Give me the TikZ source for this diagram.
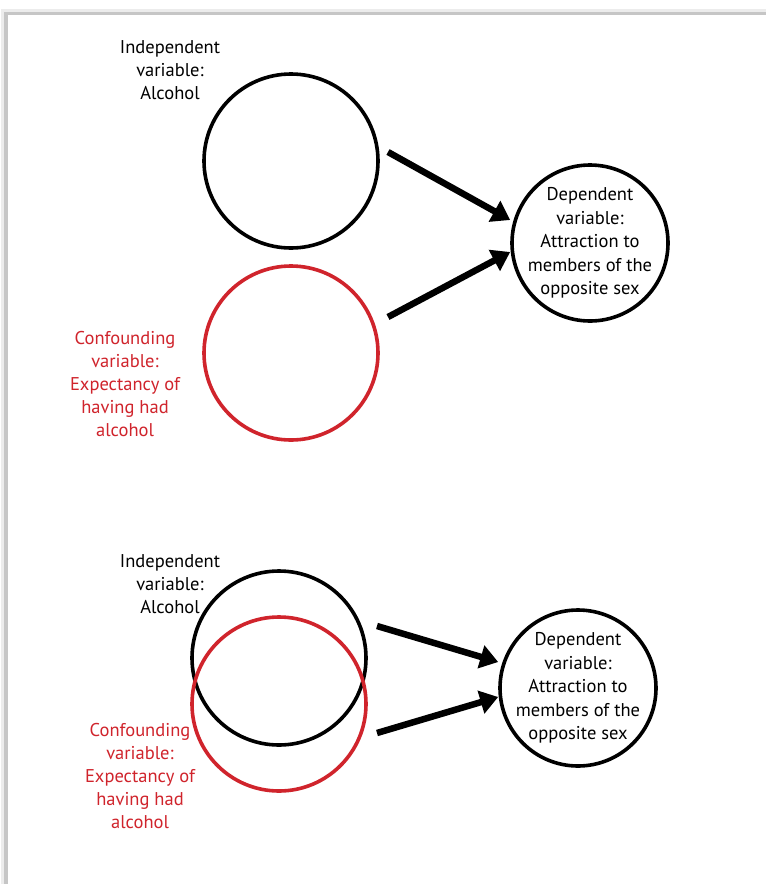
\documentclass[tikz,border=0pt]{standalone}
\usepackage{fontspec}
\setmainfont{PT Sans}
\usetikzlibrary{arrows.meta}
\definecolor{cfred}{RGB}{208,36,44}
\tikzset{
  var/.style={circle, draw, line width=3.6pt, minimum size=174pt, inner sep=0pt},
  depvar/.style={circle, draw, line width=3.6pt, minimum size=156pt, inner sep=-20pt, align=center, font=\fontsize{18.5}{23.5}\selectfont},
  lbl/.style={align=center, font=\fontsize{18.5}{23}\selectfont},
  arr/.style={line width=6.5pt, -{Triangle[length=18pt,width=23pt]}}
}
\begin{document}
\begin{tikzpicture}[x=1pt, y=-1pt, line join=round]
\useasboundingbox (0,0) rectangle (766,884);
% page frame with shadow
\fill[gray!15] (1,9) rectangle (766,884);
\fill[gray!45] (4,12) rectangle (766,884);
\fill[white] (8,15) rectangle (766,884);
% upper diagram
\node[var] (ind1) at (291,161) {};
\node[var, draw=cfred] (conf1) at (291,353) {};
\node[depvar] (dep1) at (590,243) {Dependent\\variable:\\Attraction to\\members of the\\opposite sex};
\node[lbl] (indlbl1) at (170,70) {Independent\\variable:\\Alcohol};
\node[lbl, text=cfred] (conflbl1) at (125,384) {Confounding\\variable:\\Expectancy of\\having had\\alcohol};
\coordinate (a1) at (388,152);
\coordinate (b1) at (388,317);
\draw[arr] (a1) -- (dep1.west |- 0,220);
\draw[arr] (b1) -- (dep1.west |- 0,252);
% lower diagram
\node[var] (ind2) at (279,658) {};
\node[var, draw=cfred] (conf2) at (279,704) {};
\node[depvar] (dep2) at (578,688) {Dependent\\variable:\\Attraction to\\members of the\\opposite sex};
\node[lbl] (indlbl2) at (170,584) {Independent\\variable:\\Alcohol};
\node[lbl, text=cfred] (conflbl2) at (140,776) {Confounding\\variable:\\Expectancy of\\having had\\alcohol};
\coordinate (a2) at (377,626);
\coordinate (b2) at (377,733);
\draw[arr] (a2) -- (dep2.west |- 0,662);
\draw[arr] (b2) -- (dep2.west |- 0,697);
\end{tikzpicture}
\end{document}
